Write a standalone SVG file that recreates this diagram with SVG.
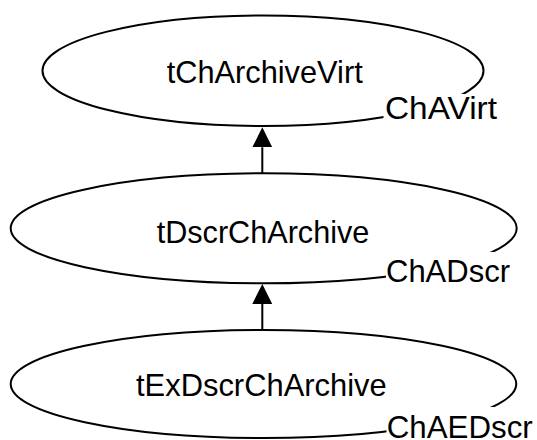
<svg xmlns="http://www.w3.org/2000/svg" width="537" height="440" viewBox="0 0 537 440">
<style>
.node ellipse{fill:none;stroke:#000;stroke-width:2}
.node text{font-family:"Liberation Sans",Arial,sans-serif;font-size:30.5px;fill:#000}
.lbl rect{fill:#fff;stroke:none}
.edge line{stroke:#000;stroke-width:2}
</style>
<defs>
<marker id="arr" markerWidth="21" markerHeight="20" refX="0" refY="10" orient="auto" markerUnits="userSpaceOnUse">
<path d="M0,0 L20,10 L0,20 Z" fill="#000"/>
</marker>
</defs>
<rect width="537" height="440" fill="#fff"/>
<g id="n1" class="node">
<ellipse cx="263" cy="70.7" rx="220.5" ry="55.3"/>
<text x="166.7" y="83.3" textLength="196" lengthAdjust="spacingAndGlyphs">tChArchiveVirt</text>
<g class="lbl"><rect x="383.5" y="94" width="120" height="34"/></g>
<text x="385" y="119.3" textLength="112" lengthAdjust="spacingAndGlyphs">ChAVirt</text>
</g>
<g id="n2" class="node">
<ellipse cx="263.7" cy="228.3" rx="253" ry="55"/>
<text x="156.7" y="242.7" textLength="212.6" lengthAdjust="spacingAndGlyphs">tDscrChArchive</text>
<g class="lbl"><rect x="386" y="252" width="136" height="34"/></g>
<text x="386" y="281.7" textLength="124" lengthAdjust="spacingAndGlyphs">ChADscr</text>
</g>
<g id="n3" class="node">
<ellipse cx="263.5" cy="384" rx="252.8" ry="54"/>
<text x="136" y="396" textLength="250.7" lengthAdjust="spacingAndGlyphs">tExDscrChArchive</text>
<g class="lbl"><rect x="386.5" y="407" width="151" height="33"/></g>
<text x="386.7" y="438" textLength="146" lengthAdjust="spacingAndGlyphs">ChAEDscr</text>
</g>
<g id="edges" class="edge">
<line x1="262.3" y1="173.3" x2="262.3" y2="147.3" marker-end="url(#arr)"/>
<line x1="262.3" y1="330" x2="262.3" y2="304" marker-end="url(#arr)"/>
</g>
</svg>
